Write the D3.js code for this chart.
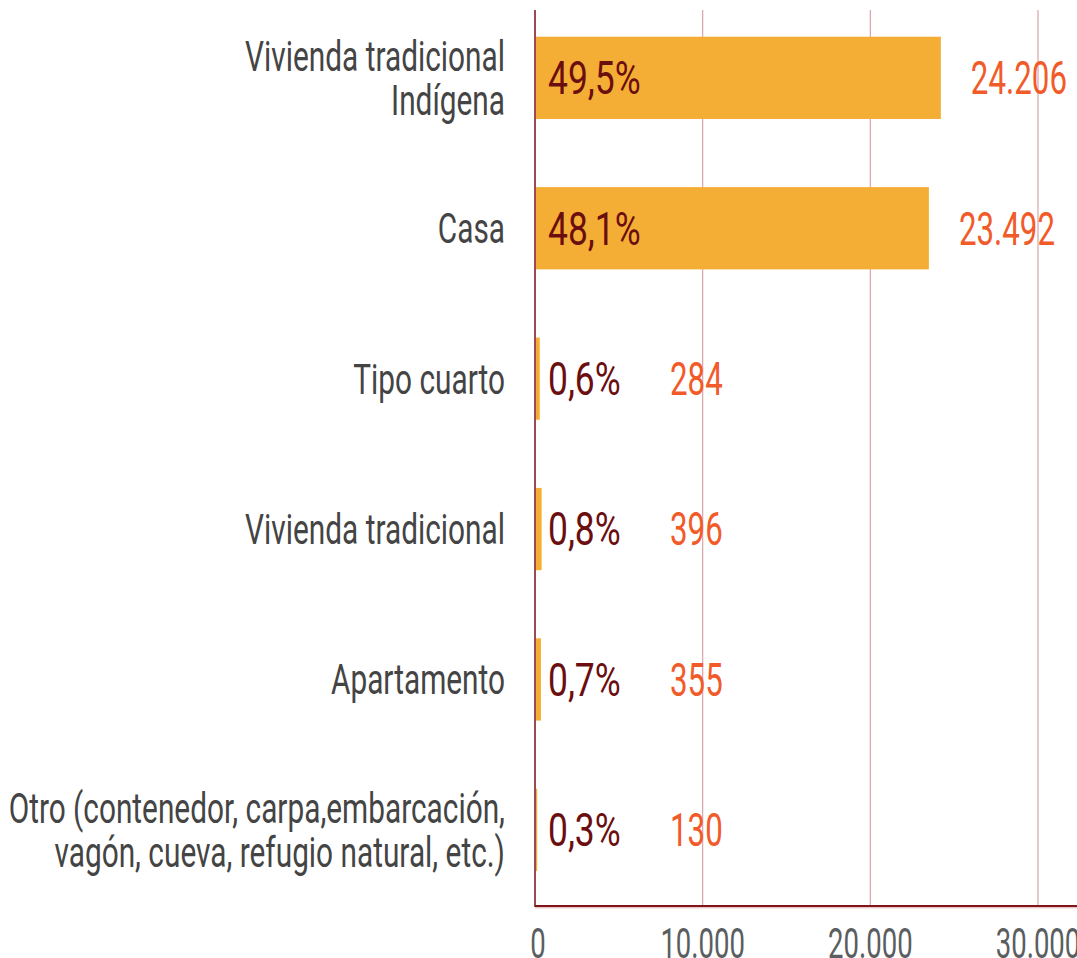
<!DOCTYPE html>
<html>
<head>
<meta charset="utf-8">
<script src="https://cdn.jsdelivr.net/npm/d3@7"></script>
<style>
  html, body { margin: 0; padding: 0; background: #fff; }
  svg { display: block; }
  text { font-family: "Roboto", "Noto Sans", sans-serif; font-weight: 400; }
</style>
</head>
<body>
<svg id="chart" width="1077" height="958"></svg>
<script>
// Tipo de vivienda: number of households and share of total
const categories = [
  ["Vivienda tradicional", "Indígena"],
  ["Casa"],
  ["Tipo cuarto"],
  ["Vivienda tradicional"],
  ["Apartamento"],
  ["Otro (contenedor, carpa,embarcación,", "vagón, cueva, refugio natural, etc.)"]
];
const counts = [24206, 23492, 284, 396, 355, 130];
const shares = ["49,5%", "48,1%", "0,6%", "0,8%", "0,7%", "0,3%"];
const countLabels = ["24.206", "23.492", "284", "396", "355", "130"];
const tickValues = [0, 10000, 20000, 30000];
const tickLabels = ["0", "10.000", "20.000", "30.000"];

const W = 1077, H = 958;
const plotLeft = 535, plotRight = W, plotTop = 10, axisY = 906;

// condensed look: Roboto squeezed horizontally
const CAT_SIZE = 42, CAT_SX = 0.71;
const VAL_SIZE = 46, PCT_SX = 0.77, NUM_SX = 0.68;
const TICK_SIZE = 43, TICK_SX = 0.64;

const svg = d3.select("#chart");

const x = d3.scaleLinear().domain([0, 30000]).range([plotLeft, 1038]);
const y = d3.scaleBand()
  .domain(d3.range(categories.length))
  .range([36.7, 871])
  .paddingInner(0.453)
  .paddingOuter(0);

const place = (px, py, sx) => `translate(${px},${py}) scale(${sx},1)`;

// vertical gridlines
svg.append("g")
  .selectAll("line")
  .data(tickValues.slice(1))
  .join("line")
  .attr("x1", d => x(d)).attr("x2", d => x(d))
  .attr("y1", plotTop).attr("y2", axisY)
  .attr("stroke", "#d8a5a8")
  .attr("stroke-width", 1.2);

// bars
svg.append("g")
  .selectAll("rect")
  .data(counts)
  .join("rect")
  .attr("x", x(0))
  .attr("y", (d, i) => y(i))
  .attr("width", d => Math.max(0, x(d) - x(0)))
  .attr("height", y.bandwidth())
  .attr("fill", "#f5ae35");

// left axis line
svg.append("line")
  .attr("x1", plotLeft).attr("x2", plotLeft)
  .attr("y1", plotTop).attr("y2", axisY + 1)
  .attr("stroke", "#9c4a50")
  .attr("stroke-width", 2);

// bottom axis line
svg.append("line")
  .attr("x1", plotLeft).attr("x2", plotRight)
  .attr("y1", axisY).attr("y2", axisY)
  .attr("stroke", "#7f1518")
  .attr("stroke-width", 2);
svg.append("line")
  .attr("x1", plotLeft).attr("x2", plotRight)
  .attr("y1", axisY + 1.8).attr("y2", axisY + 1.8)
  .attr("stroke", "#e3aeb0")
  .attr("stroke-width", 1);

// x tick labels
svg.append("g")
  .selectAll("text")
  .data(tickValues)
  .join("text")
  .attr("transform", d => place(x(d) + (d === 0 ? 3 : 0), 958, TICK_SX))
  .attr("text-anchor", "middle")
  .attr("font-size", TICK_SIZE)
  .attr("fill", "#5a5e60")
  .text((d, i) => tickLabels[i]);

// category labels
const catG = svg.append("g");
categories.forEach((lines, i) => {
  const cy = y(i) + y.bandwidth() / 2;
  const lh = 44;
  const t = catG.append("text")
    .attr("transform", place(505, cy, CAT_SX))
    .attr("text-anchor", "end")
    .attr("font-size", CAT_SIZE)
    .attr("fill", "#444444");
  lines.forEach((ln, j) => {
    t.append("tspan")
      .attr("x", 0)
      .attr("y", (j - (lines.length - 1) / 2) * lh)
      .attr("dy", "0.355em")
      .text(ln);
  });
});

// share labels next to the axis
svg.append("g")
  .selectAll("text")
  .data(shares)
  .join("text")
  .attr("transform", (d, i) => place(plotLeft + 13, y(i) + y.bandwidth() / 2, PCT_SX))
  .attr("dy", "0.355em")
  .attr("font-size", VAL_SIZE)
  .attr("fill", "#6b0e10")
  .text(d => d);

// count labels
svg.append("g")
  .selectAll("text")
  .data(counts)
  .join("text")
  .attr("transform", (d, i) => place(Math.max(x(d) + 30, plotLeft + 135), y(i) + y.bandwidth() / 2, NUM_SX))
  .attr("dy", "0.355em")
  .attr("font-size", VAL_SIZE)
  .attr("fill", "#f15a29")
  .text((d, i) => countLabels[i]);
</script>
</body>
</html>
